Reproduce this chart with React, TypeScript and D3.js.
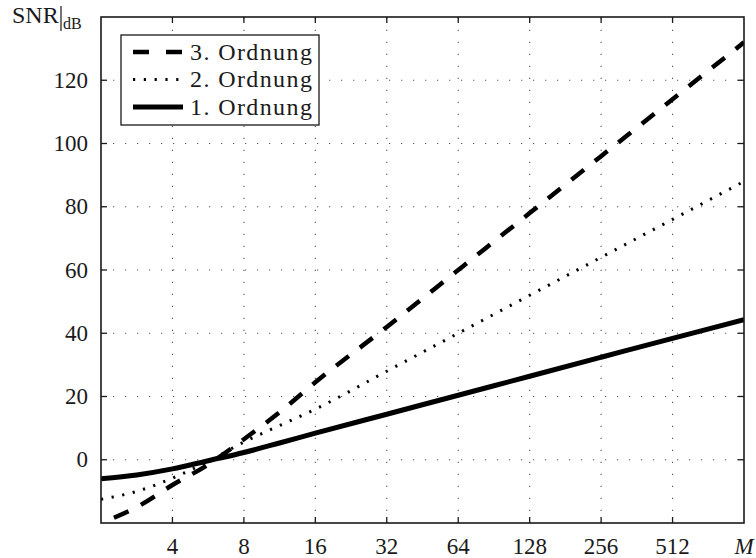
import React from 'react'
import * as d3 from 'd3'

// oversampling factor M (log2 spacing) and SNR in dB per modulator order
const mValues = [2, 2.83, 4, 5.66, 8, 11.3, 16, 32, 64, 128, 256, 512, 1024]
const snrOrder1 = [-6, -4.8, -2.9, -0.3, 2.3, 5.3, 8.4, 14.4, 20.4, 26.4, 32.4, 38.4, 44.3]
const snrOrder2 = [-12.5, -10, -5.8, -0.5, 5.6, 10.8, 16, 28, 40, 52, 64, 76, 88]
const snrOrder3 = [-20, -15, -8, -1.5, 6.5, 15, 24.5, 42, 60, 78, 96, 114, 132]
const xTicks = [4, 8, 16, 32, 64, 128, 256, 512, 1024]
const xTickLabels = ['4', '8', '16', '32', '64', '128', '256', '512', 'M']
const yTicks = [0, 20, 40, 60, 80, 100, 120]
const legendLabels = ['3. Ordnung', '2. Ordnung', '1. Ordnung']

const W = 756
const H = 558
const left = 101
const right = 744
const top = 17
const bottom = 523
const serif = {fontFamily: 'Liberation Serif'}
const ink = '#1a1a1a'

export default function App () {
  const x = d3.scaleLog().base(2).domain([2, 1024]).range([left, right])
  const y = d3.scaleLinear().domain([-20, 140]).range([bottom, top])
  const line = d3.line<number>()
    .x((d, i) => x(mValues[i]))
    .y(d => y(d))
    .curve(d3.curveMonotoneX)

  const series = [
    {label: legendLabels[0], data: snrOrder3, dash: '16,14', legendDash: '16,17', width: 4.5, offset: 16},
    {label: legendLabels[1], data: snrOrder2, dash: '2.2,8.6', legendDash: '2.2,8.6', width: 3, offset: 0},
    {label: legendLabels[2], data: snrOrder1, dash: undefined, legendDash: undefined, width: 5, offset: 0}
  ]

  return (
    <svg width={W} height={H} style={{position: 'absolute', left: 0, top: 0, background: '#fff'}}>
      <defs>
        <clipPath id='plot'>
          <rect x={left} y={top} width={right - left} height={bottom - top} />
        </clipPath>
      </defs>
      {/* grid */}
      <g stroke='#555' strokeWidth={1.1} strokeDasharray='1.2,10.8' fill='none'>
        {xTicks.slice(0, -1).map(t => (
          <line key={'gx' + t} x1={x(t)} x2={x(t)} y1={bottom} y2={top} />
        ))}
        {yTicks.map(t => (
          <line key={'gy' + t} x1={left} x2={right} y1={y(t)} y2={y(t)} />
        ))}
      </g>
      {/* curves */}
      <g clipPath='url(#plot)' fill='none' stroke='#000'>
        {series.map(s => (
          <path key={s.label} d={line(s.data) || ''} strokeWidth={s.width}
            strokeDasharray={s.dash} strokeDashoffset={s.offset} />
        ))}
      </g>
      {/* frame and ticks */}
      <rect x={left} y={top} width={right - left} height={bottom - top} fill='none' stroke={ink} strokeWidth={1.6} />
      <g stroke={ink} strokeWidth={1.3}>
        {xTicks.slice(0, -1).map(t => (
          <g key={'tx' + t}>
            <line x1={x(t)} x2={x(t)} y1={bottom} y2={bottom - 6} />
            <line x1={x(t)} x2={x(t)} y1={top} y2={top + 6} />
          </g>
        ))}
        {yTicks.map(t => (
          <g key={'ty' + t}>
            <line x1={left} x2={left + 6} y1={y(t)} y2={y(t)} />
            <line x1={right} x2={right - 6} y1={y(t)} y2={y(t)} />
          </g>
        ))}
      </g>
      {/* tick labels */}
      <g fill={ink}>
        {xTicks.map((t, i) => (
          <text key={'lx' + t} x={x(t)} y={554} textAnchor='middle' fontSize={23} style={serif}
            fontStyle={xTickLabels[i] === 'M' ? 'italic' : 'normal'}>{xTickLabels[i]}</text>
        ))}
        {yTicks.map(t => (
          <text key={'ly' + t} x={88} y={y(t)} dy='0.33em' textAnchor='end' fontSize={23} style={serif}>{t}</text>
        ))}
      </g>
      {/* y label */}
      <g fill={ink}>
        <text x={12} y={23} fontSize={24} style={serif}>SNR</text>
        <line x1={61} x2={61} y1={6} y2={31} stroke={ink} strokeWidth={1.2} />
        <text x={63} y={29} fontSize={16} style={serif}>dB</text>
      </g>
      {/* legend */}
      <g>
        <rect x={121} y={35} width={198} height={90} fill='#fff' stroke={ink} strokeWidth={1.3} />
        {series.map((s, i) => (
          <g key={'lg' + s.label}>
            <line x1={133} x2={183} y1={52 + i * 27.5} y2={52 + i * 27.5} stroke='#000'
              strokeWidth={s.width} strokeDasharray={s.legendDash} />
            <text x={190} y={52 + i * 27.5} dy='0.33em' fontSize={24} fill={ink} style={serif}
              letterSpacing={1.4}>{s.label}</text>
          </g>
        ))}
      </g>
    </svg>
  )
}
